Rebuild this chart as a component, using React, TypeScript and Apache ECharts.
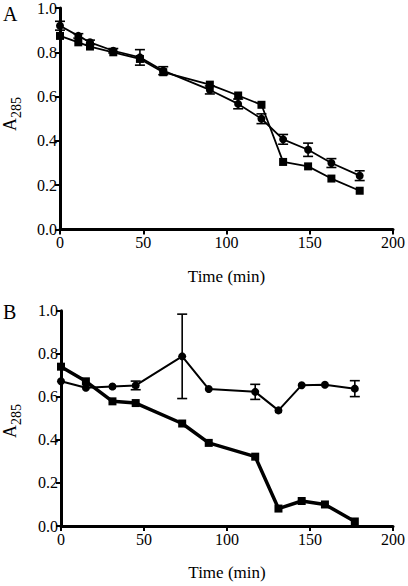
import React, { useEffect, useRef } from "react";
import * as echarts from "echarts";

const FONT = "Liberation Serif";

// Panel A
const timeA = [0, 11, 18, 32, 48, 62, 90, 107, 121, 134, 149, 163, 180];
const circlesA = [0.92, 0.874, 0.845, 0.807, 0.777, 0.717, 0.63, 0.567, 0.5, 0.407, 0.36, 0.3, 0.243];
const circlesAErr = [0.02, 0.01, 0.01, 0.01, 0.035, 0.018, 0.018, 0.022, 0.022, 0.022, 0.03, 0.02, 0.022];
const squaresA = [0.874, 0.845, 0.826, 0.8, 0.77, 0.71, 0.654, 0.605, 0.563, 0.305, 0.285, 0.23, 0.175];

// Panel B
const timeB = [0, 15, 31, 45, 73, 89, 117, 131, 145, 159, 177];
const circlesB = [0.672, 0.642, 0.648, 0.653, 0.788, 0.636, 0.623, 0.537, 0.654, 0.656, 0.638];
const circlesBErr = [0.0, 0.0, 0.0, 0.02, 0.196, 0.0, 0.035, 0.0, 0.0, 0.0, 0.037];
const squaresB = [0.74, 0.672, 0.579, 0.571, 0.476, 0.386, 0.322, 0.081, 0.116, 0.1, 0.021];

const xTicks = [0, 50, 100, 150, 200];
const yTicks = [0, 0.2, 0.4, 0.6, 0.8, 1.0];

function pairs(xs: number[], ys: number[]) {
  return xs.map((x, i) => [x, ys[i]]);
}
function errs(xs: number[], ys: number[], es: number[]) {
  return xs
    .map((x, i) => [x, ys[i] - es[i], ys[i] + es[i]])
    .filter((_, i) => es[i] > 0);
}

function errorRender(params: any, api: any) {
  const x = api.value(0);
  const lo = api.coord([x, api.value(1)]);
  const hi = api.coord([x, api.value(2)]);
  const w = 5;
  const style = { stroke: "#000", lineWidth: 1.6 };
  return {
    type: "group",
    children: [
      { type: "line", shape: { x1: lo[0], y1: lo[1], x2: hi[0], y2: hi[1] }, style },
      { type: "line", shape: { x1: lo[0] - w, y1: lo[1], x2: lo[0] + w, y2: lo[1] }, style },
      { type: "line", shape: { x1: hi[0] - w, y1: hi[1], x2: hi[0] + w, y2: hi[1] }, style },
    ],
  };
}

type PanelProps = {
  letter: string;
  top: number;
  left: number;
  width: number;
  height: number;
  letterY: number;
  labelY: number;
  times: number[];
  circles: number[];
  circleErr: number[];
  squares: number[];
  circleWidth: number;
  squareWidth: number;
};

function buildOption(p: PanelProps) {
  return {
    animation: false,
    grid: { left: p.left, top: p.top, width: p.width, height: p.height },
    xAxis: {
      type: "value",
      min: xTicks[0],
      max: xTicks[xTicks.length - 1],
      interval: 50,
      name: "Time (min)",
      nameLocation: "middle",
      nameGap: 38,
      nameTextStyle: { color: "#000", fontSize: 17, fontFamily: FONT },
      axisLine: { show: true, onZero: false, lineStyle: { color: "#000", width: 3 } },
      axisTick: { show: true, length: 5, lineStyle: { color: "#000", width: 2 } },
      axisLabel: { color: "#000", fontSize: 16, fontFamily: FONT, margin: 5 },
      splitLine: { show: false },
    },
    yAxis: {
      type: "value",
      min: yTicks[0],
      max: yTicks[yTicks.length - 1],
      interval: 0.2,
      axisLine: { show: true, onZero: false, lineStyle: { color: "#000", width: 3 } },
      axisTick: { show: true, length: 5, lineStyle: { color: "#000", width: 2 } },
      axisLabel: {
        color: "#000",
        fontSize: 16,
        fontFamily: FONT,
        margin: 3,
        rich: { t: { fontFamily: FONT, fontSize: 16, color: "#000" } },
        formatter: (v: number) => "{t|" + v.toFixed(1) + "}",
      },
      splitLine: { show: false },
    },
    graphic: [
      { type: "text", x: 3, y: p.letterY, style: { text: p.letter, font: `20px ${FONT}`, fill: "#000" } },
      {
        type: "group",
        x: 19,
        y: p.labelY,
        rotation: Math.PI / 2,
        children: [
          {
            type: "text",
            x: 0,
            y: 0,
            style: { text: "A", font: `18px ${FONT}`, fill: "#000", verticalAlign: "bottom", align: "left" },
          },
          {
            type: "text",
            x: 13,
            y: 4,
            style: { text: "285", font: `14px ${FONT}`, fill: "#000", verticalAlign: "bottom", align: "left" },
          },
        ],
      },
    ],
    series: [
      {
        type: "line",
        data: pairs(p.times, p.squares),
        symbol: "rect",
        symbolSize: 8,
        itemStyle: { color: "#000" },
        lineStyle: { color: "#000", width: p.squareWidth },
      },
      {
        type: "line",
        data: pairs(p.times, p.circles),
        symbol: "circle",
        symbolSize: 8,
        itemStyle: { color: "#000" },
        lineStyle: { color: "#000", width: p.circleWidth },
      },
      {
        type: "custom",
        renderItem: errorRender,
        data: errs(p.times, p.circles, p.circleErr),
        encode: { x: 0, y: [1, 2] },
        z: 4,
      },
    ],
  };
}

function Panel(p: PanelProps) {
  const ref = useRef<HTMLDivElement>(null);
  useEffect(() => {
    const chart = echarts.init(ref.current!, undefined, { renderer: "svg" });
    chart.setOption(buildOption(p));
    return () => chart.dispose();
  }, []);
  return <div ref={ref} style={{ width: 408, height: 293 }} />;
}

export default function App() {
  useEffect(() => {
    document.body.style.margin = "0";
  }, []);
  return (
    <div style={{ width: 408, height: 586, background: "#fff" }}>
      <Panel
        letter="A"
        top={7}
        left={60}
        width={333}
        height={222.5}
        letterY={4}
        labelY={131}
        times={timeA}
        circles={circlesA}
        circleErr={circlesAErr}
        squares={squaresA}
        circleWidth={1.8}
        squareWidth={1.8}
      />
      <Panel
        letter="B"
        top={17.7}
        left={61}
        width={334}
        height={221.6}
        letterY={9}
        labelY={145}
        times={timeB}
        circles={circlesB}
        circleErr={circlesBErr}
        squares={squaresB}
        circleWidth={2}
        squareWidth={3.5}
      />
    </div>
  );
}
